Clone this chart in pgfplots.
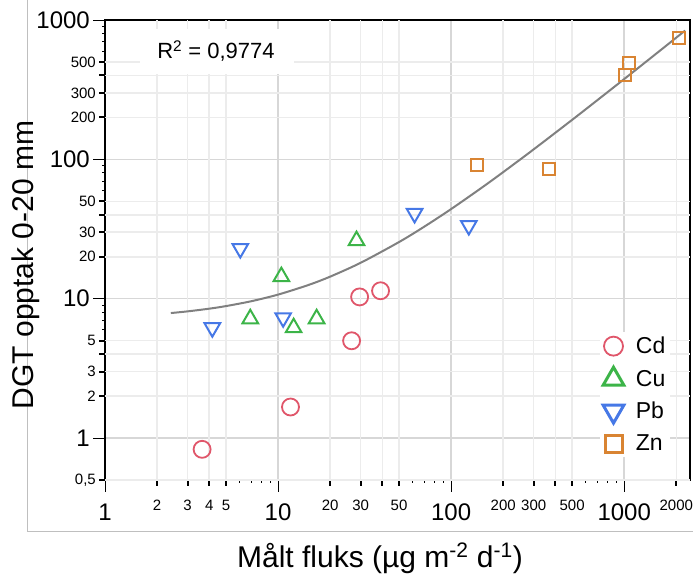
\documentclass[border=0pt]{standalone}
\usepackage{fontspec}
\setmainfont{Liberation Sans}
\usepackage{pgfplots}
\pgfplotsset{compat=1.18}
\definecolor{cdred}{RGB}{224,86,106}
\definecolor{cugreen}{RGB}{60,180,72}
\definecolor{pbblue}{RGB}{70,120,230}
\definecolor{znorange}{RGB}{217,132,50}
\definecolor{gridlight}{RGB}{236,236,236}
\definecolor{gridmaj}{RGB}{215,215,215}
\newcommand{\Maj}{\fontsize{24}{26}\selectfont}
\newcommand{\Mnr}{\fontsize{15}{17}\selectfont}
\begin{document}
\begin{tikzpicture}[x=1pt,y=1pt]
\useasboundingbox (0,0) rectangle (693,576);
\draw[color=black!25, line width=1pt] (27,576) -- (27,45) -- (693,45);
\begin{axis}[
  at={(105pt,96pt)}, anchor=south west,
  scale only axis, width=585pt, height=460pt,
  xmode=log, ymode=log,
  xmin=1, xmax=2400, ymin=0.5, ymax=1000,
  axis line style={black, line width=1.5pt},
  tick align=outside, xtick pos=bottom, ytick pos=left,
  major tick length=12pt,
  tick style={black, line width=0.8pt},
  xtick={1,10,100,1000}, xticklabels={1,10,100,1000},
  ytick={1,10,100,1000}, yticklabels={1,10,100,1000},
  xticklabel style={font=\Maj, anchor=north, inner sep=0pt, yshift=-12pt},
  yticklabel style={font=\Maj, anchor=east, inner sep=0pt, xshift=-3pt},
  grid=major, major grid style={gridmaj, line width=1.5pt},
  minor tick num=0,
  extra x ticks={2,3,4,5,20,30,40,50,200,300,400,500,2000},
  extra x tick labels={2,3,4,5,20,30,,50,200,300,,500,2000},
  extra y ticks={0.5,2,3,4,5,20,30,40,50,200,300,400,500},
  extra y tick labels={{0,5},2,3,,5,20,30,,50,200,300,,500},
  extra x tick style={grid=major, major grid style={gridlight, line width=1.5pt},
    major tick length=6pt, tick style={black, line width=2pt},
    xticklabel style={font=\Mnr, yshift=-2pt}},
  extra y tick style={grid=major, major grid style={gridlight, line width=1.5pt},
    major tick length=6pt, tick style={black, line width=2pt},
    yticklabel style={font=\Mnr}},
  legend style={at={(0.846,0.322)}, anchor=north west, fill=white, draw=none,
    font=\fontsize{23}{25}\selectfont, row sep=10pt, inner sep=3pt,
    /tikz/every odd column/.append style={column sep=10pt}},
  legend cell align=left,
  legend image code/.code={\draw[mark repeat=2,mark phase=2,#1] plot coordinates {(0pt,0pt)(12pt,0pt)(24pt,0pt)};},
]
% trend line
\addplot[forget plot, draw={rgb,255:red,128;green,128;blue,128}, line width=2pt, smooth, no marks] coordinates {
(2.4,7.89)(3,8.11)(4,8.48)(5,8.85)(7,9.59)(10,10.7)(15,12.55)(20,14.4)(30,18.1)(50,25.5)(70,32.9)(100,44.0)(150,62.5)(200,81)(300,118)(500,192)(700,266)(1000,377)(1500,562)(2250,840)};
% Cd
\addplot[forget plot, only marks, mark=o, mark size=8.5pt, draw=cdred, line width=1.8pt] coordinates {
(3.64,0.83)(11.8,1.67)(26.6,4.99)(29.6,10.3)(39.1,11.4)};
% Cu
\addplot[forget plot, only marks, mark=triangle, mark size=9pt, draw=cugreen, line width=2pt] coordinates {
(10.45,14.4)(28.4,26.1)(6.91,7.18)(12.3,6.19)(16.7,7.18)};
% Pb
\addplot[forget plot, only marks, mark=triangle, mark size=9pt, mark options={rotate=180}, draw=pbblue, line width=2pt] coordinates {
(6.05,22.9)(4.17,6.19)(10.7,7.3)(61.5,40.9)(126.5,33.5)};
% Zn
\addplot[forget plot, only marks, mark=square, mark size=6pt, draw=znorange, line width=2pt] coordinates {
(140.7,90.5)(367,84.7)(1067,491)(1012,402)(2080,742)};
\addlegendimage{only marks, mark=o, mark size=9.5pt, draw=cdred, line width=1.8pt}
\addlegendentry{Cd}
\addlegendimage{only marks, mark=triangle, mark size=12pt, draw=cugreen, line width=3pt}
\addlegendentry{Cu}
\addlegendimage{only marks, mark=triangle, mark size=12pt, mark options={rotate=180}, draw=pbblue, line width=3pt}
\addlegendentry{Pb}
\addlegendimage{only marks, mark=square, mark size=8.5pt, draw=znorange, line width=3pt}
\addlegendentry{Zn}
\end{axis}
\node[fill=white, minimum width=154pt, minimum height=45pt, inner sep=0pt] at (217,524.5) {};
\node[anchor=base, font=\fontsize{22}{24}\selectfont, inner sep=0pt] at (216,517) {R\textsuperscript{2} = 0,9774};
\node[anchor=base, rotate=90, font=\fontsize{30}{32}\selectfont, inner sep=0pt] at (33,311) {DGT opptak 0-20 mm};
\node[anchor=base, font=\fontsize{30}{32}\selectfont, inner sep=0pt] at (380,9) {Målt fluks (µg m\textsuperscript{-2} d\textsuperscript{-1})};
\end{tikzpicture}
\end{document}
